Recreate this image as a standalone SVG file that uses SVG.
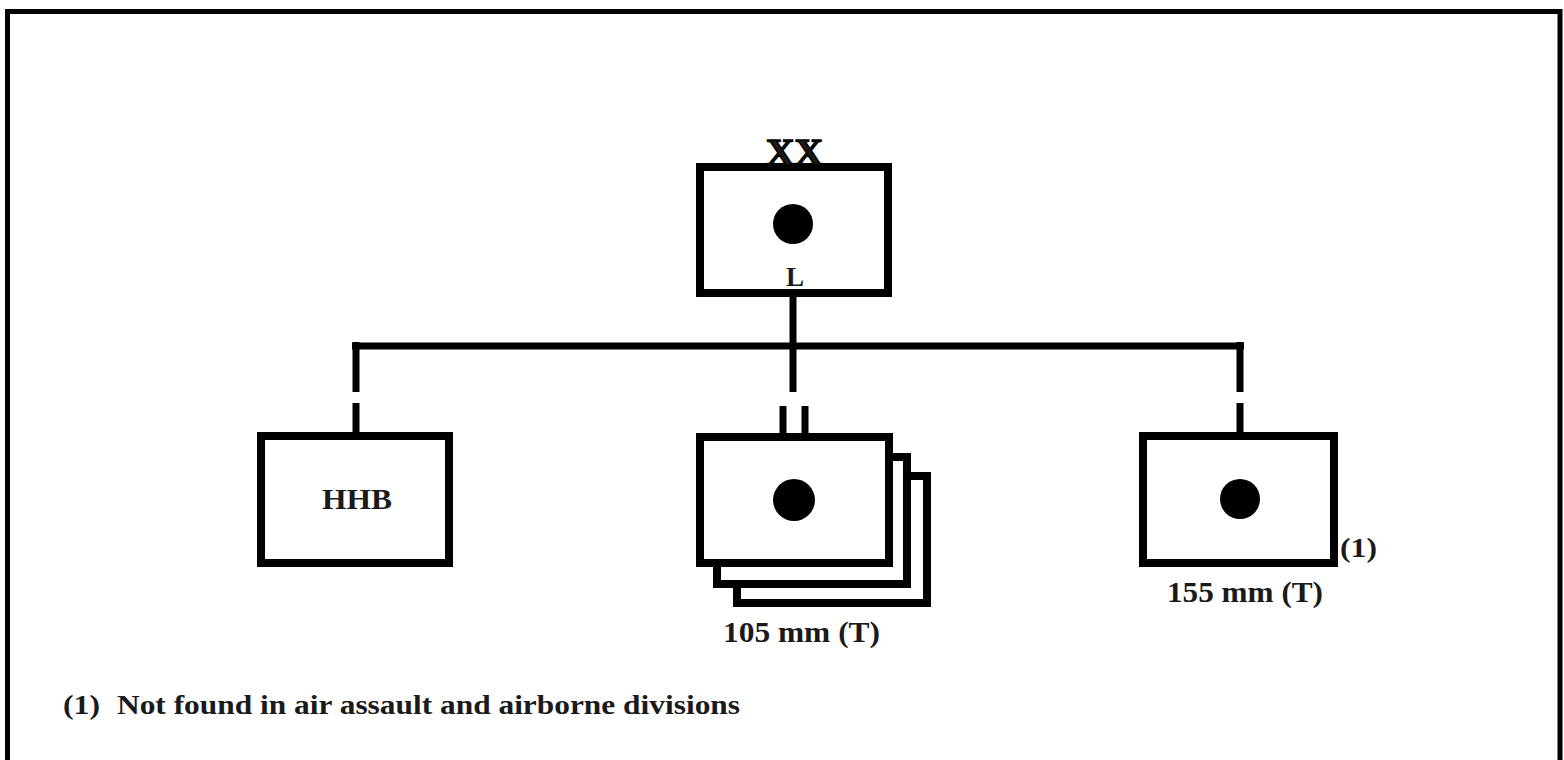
<svg xmlns="http://www.w3.org/2000/svg" width="1564" height="760" viewBox="0 0 1564 760">
<style>
.box{fill:#fff;stroke:#000;stroke-width:8}
.dot{fill:#000}
.ln{stroke:#000;stroke-width:7;fill:none}
.t{font-family:"Liberation Serif","Times New Roman",serif;font-weight:bold;fill:#1a1a1a}
</style>
<rect x="0" y="0" width="1564" height="760" fill="#fff"/>
<rect x="7.5" y="11.5" width="1552.5" height="800" fill="none" stroke="#000" stroke-width="5"/>
<g id="connectors">
<line class="ln" x1="793" y1="297" x2="793" y2="392"/>
<line class="ln" x1="352" y1="346" x2="1244" y2="346" stroke-width="9"/>
<line class="ln" x1="356" y1="342" x2="356" y2="392"/>
<line class="ln" x1="356" y1="403" x2="356" y2="433"/>
<line class="ln" x1="1240" y1="342" x2="1240" y2="392"/>
<line class="ln" x1="1240" y1="403" x2="1240" y2="433"/>
<line class="ln" x1="783" y1="406" x2="783" y2="436" stroke-width="6"/>
<line class="ln" x1="805" y1="406" x2="805" y2="436" stroke-width="6"/>
</g>
<g id="div-arty">
<rect class="box" x="700" y="167" width="188" height="126"/>
<circle class="dot" cx="793" cy="224" r="20"/>
<text class="t" x="795" y="286" font-size="27" text-anchor="middle">L</text>
<text class="t" x="766" y="165" font-size="38" textLength="57" lengthAdjust="spacingAndGlyphs" stroke="#000" stroke-width="1.5">XX</text>
</g>
<g id="hhb">
<rect class="box" x="261" y="436" width="188" height="127"/>
<text class="t" x="322" y="509" font-size="29" textLength="70" lengthAdjust="spacingAndGlyphs">HHB</text>
</g>
<g id="bn-105">
<rect class="box" x="737" y="476" width="190" height="127"/>
<rect class="box" x="717" y="457" width="190" height="127"/>
<rect class="box" x="700" y="437" width="189" height="126"/>
<circle class="dot" cx="794" cy="500" r="21"/>
<text class="t" x="723" y="642" font-size="29" textLength="157" lengthAdjust="spacingAndGlyphs">105 mm (T)</text>
</g>
<g id="bn-155">
<rect class="box" x="1143" y="436" width="191" height="127"/>
<circle class="dot" cx="1240" cy="499" r="20"/>
<text class="t" x="1340" y="557" font-size="28" textLength="37" lengthAdjust="spacingAndGlyphs">(1)</text>
<text class="t" x="1167" y="602" font-size="29" textLength="156" lengthAdjust="spacingAndGlyphs">155 mm (T)</text>
</g>
<text class="t" x="63" y="714" font-size="28" textLength="37" lengthAdjust="spacingAndGlyphs">(1)</text>
<text class="t" x="117" y="714" font-size="28" textLength="623" lengthAdjust="spacingAndGlyphs">Not found in air assault and airborne divisions</text>
</svg>
